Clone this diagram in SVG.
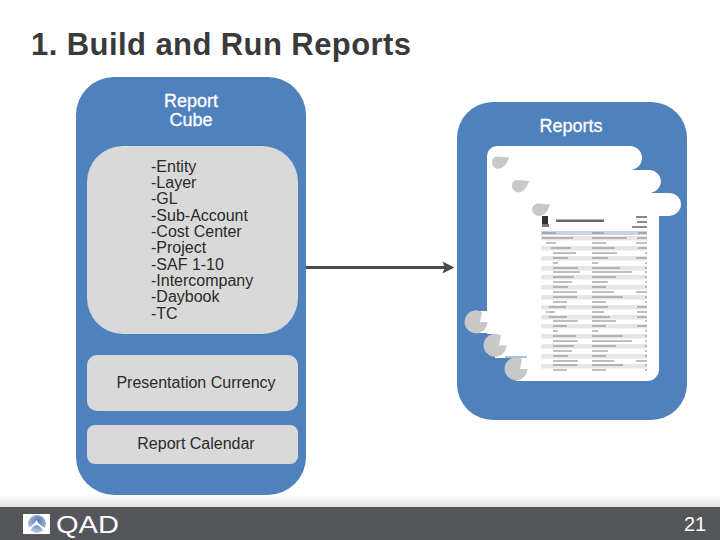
<svg xmlns="http://www.w3.org/2000/svg" width="720" height="540" viewBox="0 0 720 540">
<style>
text{font-family:"Liberation Sans",Arial,sans-serif}
.panel{fill:#4f81bd}
.inner{fill:#d9d9d9}
.w{fill:#fff;font-size:18px;text-anchor:middle;stroke:#fff;stroke-width:.3px}
.l{fill:#2a2a2a;font-size:16px}
.blob{fill:#c8c8c8}
.s{fill:#e6e6e6}
.t{fill:#8a8a8a}
</style>
<defs>
<linearGradient id="fade" x1="0" y1="0" x2="0" y2="1"><stop offset="0" stop-color="#fff"/><stop offset="1" stop-color="#e2e2e2"/></linearGradient>
<radialGradient id="ball" cx="0.55" cy="0.35" r="0.7"><stop offset="0" stop-color="#4f78b8"/><stop offset="1" stop-color="#c5cfe0"/></radialGradient>
<marker id="arrow" viewBox="0 0 10 10" refX="8" refY="5" markerWidth="4" markerHeight="4" orient="auto"><path d="M0 0L10 5L0 10L2 5Z" fill="#4a4a4a"/></marker>
</defs>
<rect width="720" height="540" fill="#fff"/>
<text x="31" y="55" font-size="31" font-weight="bold" fill="#3a3a3a" textLength="380">1. Build and Run Reports</text>
<g id="report-cube">
<rect class="panel" x="76" y="77" width="230" height="418" rx="38"/>
<text class="w" x="191" y="107">Report</text>
<text class="w" x="191" y="126">Cube</text>
</g>
<g id="dimensions">
<rect class="inner" x="87" y="146" width="211" height="188" rx="36"/>
<text class="l" x="151" y="172">-Entity</text>
<text class="l" x="151" y="188">-Layer</text>
<text class="l" x="151" y="204">-GL</text>
<text class="l" x="151" y="221">-Sub-Account</text>
<text class="l" x="151" y="237">-Cost Center</text>
<text class="l" x="151" y="253">-Project</text>
<text class="l" x="151" y="270">-SAF 1-10</text>
<text class="l" x="151" y="286">-Intercompany</text>
<text class="l" x="151" y="302">-Daybook</text>
<text class="l" x="151" y="319">-TC</text>
</g>
<g id="presentation-currency">
<rect class="inner" x="87" y="355" width="211" height="56" rx="10"/>
<text class="l" x="196" y="388" text-anchor="middle">Presentation Currency</text>
</g>
<g id="report-calendar">
<rect class="inner" x="87" y="425" width="211" height="39" rx="8"/>
<text class="l" x="196" y="449" text-anchor="middle">Report Calendar</text>
</g>
<g id="reports">
<rect class="panel" x="457" y="102" width="230" height="318" rx="36"/>
<text class="w" x="571" y="132">Reports</text>
<path fill="#fff" d="M497 146H630A12 12 0 0 1 642 158A12 12 0 0 1 632 170H650A12 12 0 0 1 661 181A12 12 0 0 1 651 193H670A11.500 11.500 0 0 1 681 204A12 12 0 0 1 668 216H659V368A12 12 0 0 1 647 381H516V358H495V334H487V333H476V311H487V156A10 10 0 0 1 497 146Z"/>
<rect x="505" y="356.500" width="22" height="1" fill="#4f81bd"/>
<path class="blob" d="M509 157.500L497 156.500Q492 157 492 162Q492 168 498 169Q505 169 509 158Z"/>
<path class="blob" d="M529 181L517 180Q512 180.500 512 185.500Q512 191.500 518 192.500Q525 192.500 529 181.500Z"/>
<path class="blob" d="M550 204.500L538 203.500Q533 204 532 209Q532 215 539 216Q546 216 550 205Z"/>
<path class="blob" d="M482 312A11.500 11.500 0 1 0 487.500 322H480Z"/>
<path class="blob" d="M501 335.500A11.500 11.500 0 1 0 506.500 345.500H499Z"/>
<path class="blob" d="M522 359A11.500 11.500 0 1 0 527.500 369H520Z"/>
<g id="report-page">
<rect x="542" y="216" width="6" height="8" fill="#333"/><rect x="542" y="224" width="7" height="3" fill="#777"/>
<rect x="556" y="219.500" width="48" height="2.500" fill="#666"/>
<rect x="636" y="216" width="11" height="2" class="t"/><rect x="637" y="221" width="10" height="2" class="t"/><rect x="632" y="226" width="15" height="2" class="t"/>
<rect x="541" y="231" width="106" height="4" fill="#c9d3e2"/>
<rect class="s" x="541" y="236" width="106" height="4.500"/><rect class="s" x="541" y="246" width="106" height="4.500"/><rect class="s" x="541" y="256" width="106" height="4.500"/><rect class="s" x="541" y="266" width="106" height="4.500"/><rect class="s" x="541" y="275" width="106" height="4.500"/><rect class="s" x="541" y="285" width="106" height="4.500"/><rect class="s" x="541" y="295" width="106" height="4.500"/><rect class="s" x="541" y="305" width="106" height="4.500"/><rect class="s" x="541" y="315" width="106" height="4.500"/><rect class="s" x="541" y="324" width="106" height="4.500"/><rect class="s" x="541" y="334" width="106" height="4.500"/><rect class="s" x="541" y="344" width="106" height="4.500"/><rect class="s" x="541" y="354" width="106" height="4.500"/><rect class="s" x="541" y="364" width="106" height="4.500"/>
<path stroke="#808080" stroke-width="1.200" fill="none" d="M542 233H556M592 233H604M638 233H647M542 238H573M592 238H627M637 238H647M546 243H556M592 243H606M636 243H647M551 248H571M592 248H615M638 248H647M553 253H576M592 253H617M645 253H647M553 258H568M592 258H608M636 258H647M553 263H558M592 263H598M645 263H647M553 268H578M592 268H620M645 268H647M553 272H580M592 272H632M645 272H647M553 277H574M592 277H616M645 277H647M553 282H572M592 282H608M645 282H647M553 287H568M592 287H606M645 287H647M553 292H577M592 292H614M636 292H647M553 297H577M592 297H623M645 297H647M553 302H567M592 302H606M645 302H647M549 307H566M592 307H608M637 307H647M546 312H555M592 312H604M637 312H647M549 317H567M592 317H610M637 317H647M553 321H578M592 321H616M645 321H647M553 326H567M592 326H606M637 326H647M553 331H558M592 331H598M645 331H647M553 336H576M592 336H623M645 336H647M553 341H578M592 341H632M645 341H647M553 346H574M592 346H616M645 346H647M553 351H572M592 351H608M645 351H647M553 356H568M592 356H606M645 356H647M553 361H578M592 361H614M636 361H647M553 365H577M592 365H623M645 365H647M553 370H567M592 370H606M645 370H647"/>
</g>
</g>
<g id="connectors">
<path d="M306 267.500H452" stroke="#4a4a4a" stroke-width="3" fill="none" marker-end="url(#arrow)"/>
</g>
<g id="footer">
<rect y="495" width="720" height="12" fill="url(#fade)"/>
<rect y="507" width="720" height="33" fill="#54565a"/>
<rect x="23" y="514" width="27" height="20" fill="#fff"/>
<circle cx="37" cy="524" r="9" fill="url(#ball)"/>
<path d="M23 534V530Q33 527 36.500 520Q40 527 50 530V534H46Q40 525 36.500 525Q33 525 28 534Z" fill="#fff"/>
<text x="56" y="533" font-size="24" fill="#fff" textLength="63" lengthAdjust="spacingAndGlyphs">QAD</text>
<text x="684" y="531" font-size="20" fill="#fff">21</text>
</g>
</svg>
